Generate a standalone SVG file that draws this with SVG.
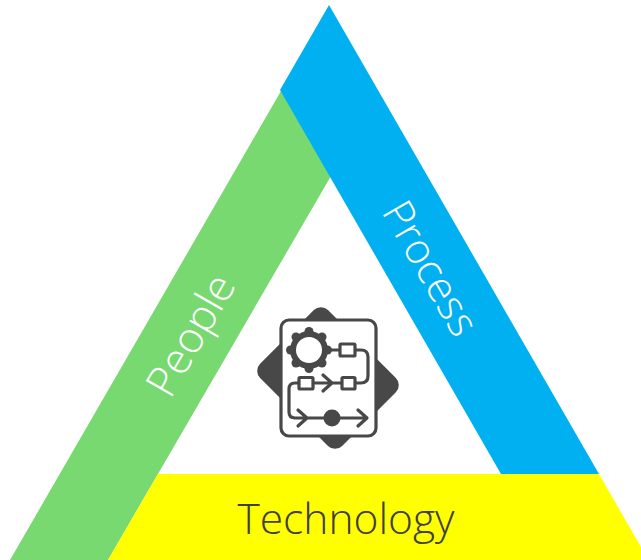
<svg xmlns="http://www.w3.org/2000/svg" width="641" height="560" viewBox="0 0 641 560">
<style>
.lbl{font-family:"Open Sans","Liberation Sans",sans-serif;font-weight:300;}
.w{fill:#fff}
.ln{fill:none;stroke:#484848;stroke-width:3.2;stroke-linecap:round;stroke-linejoin:round}
.box{fill:#fff;stroke:#484848;stroke-width:3.2}
</style>
<rect width="641" height="560" fill="#fff"/>
<g id="people">
<polygon points="281,91 331,176 108,560 10,560" fill="#77d970"/>
<text class="lbl w" font-size="43" text-anchor="middle" transform="translate(190.500,335) rotate(-60)" y="15">People</text>
</g>
<g id="process">
<polygon points="329,5 280,90 501,474 599,474" fill="#00b0f0"/>
<text class="lbl w" font-size="42" text-anchor="middle" transform="translate(431,268) rotate(60)" y="15">Process</text>
</g>
<g id="technology">
<polygon points="158,474 599,474 641,547 641,560 108,560" fill="#ffff00"/>
<text class="lbl" fill="#404040" font-size="42.5" text-anchor="middle" x="346" y="534">Technology</text>
</g>
<g id="icon">
<rect x="270" y="330" width="116" height="96" rx="10" fill="#484848" transform="rotate(45 328 378)"/>
<rect x="281" y="320" width="95" height="116" rx="8" fill="#fff" stroke="#484848" stroke-width="3.2"/>
<circle cx="309" cy="350" r="19" fill="#484848"/>
<g fill="#484848">
<circle cx="309" cy="331.500" r="4.500"/><circle cx="309" cy="368.500" r="4.500"/><circle cx="290.500" cy="350" r="4.500"/><circle cx="327.500" cy="350" r="4.500"/>
<circle cx="296" cy="337" r="4.500"/><circle cx="322" cy="337" r="4.500"/><circle cx="296" cy="363" r="4.500"/><circle cx="322" cy="363" r="4.500"/>
</g>
<circle cx="309" cy="350" r="13" fill="#fff"/>
<path class="ln" d="M327 350H340M354 350H361Q368 350 368 357V376Q368 383 361 383H354M342 383H313M299 383H295Q289 383 289 389V412Q289 418 295 418H366M323 375L332 383L323 391M298 410L307 418L298 426M358 410L367 418L358 426"/>
<rect class="box" x="340" y="344" width="15" height="12" rx="1"/>
<rect class="box" x="299" y="377.500" width="14" height="11.500" rx="1"/>
<rect class="box" x="342" y="377.500" width="13" height="11.500" rx="1"/>
<circle cx="332" cy="418" r="8.500" fill="#484848"/>
</g>
</svg>
